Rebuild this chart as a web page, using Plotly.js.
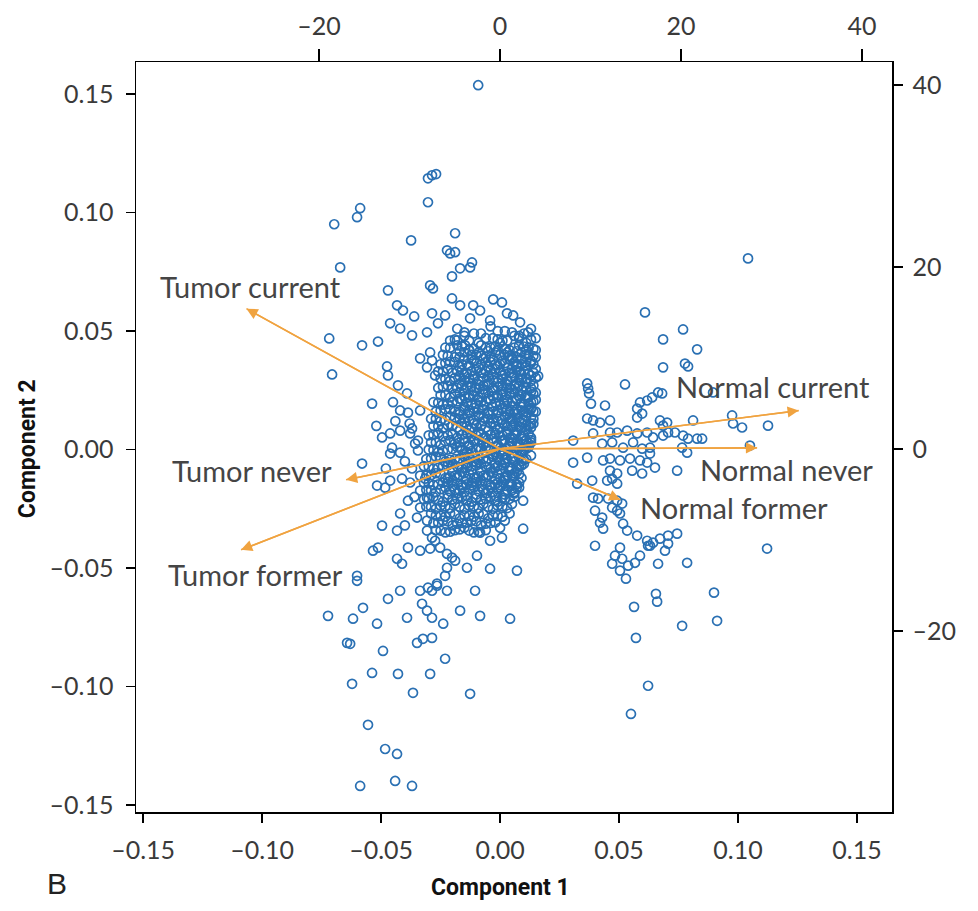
<!DOCTYPE html>
<html><head><meta charset="utf-8">
<script src="https://cdn.plot.ly/plotly-3.0.1.min.js"></script>
<style>html,body{margin:0;padding:0;background:#fff}#chart{width:978px;height:911px}</style>
</head><body><div id="chart"></div>
<script>
// ---- Sample scores (Component 1, Component 2) ----
// dense central block
const coreC1 = [
-0.018,-0.011,-0.004,0.002,0.008,0.013,
-0.021,-0.015,-0.009,-0.003,0.001,0.006,0.011,0.015,
-0.023,-0.018,-0.013,-0.008,-0.004,0.000,0.004,0.008,0.012,0.015,
-0.024,-0.019,-0.015,-0.010,-0.006,-0.002,0.002,0.005,0.009,0.012,0.015,
-0.025,-0.021,-0.016,-0.012,-0.008,-0.004,0.000,0.004,0.007,0.011,0.014,
-0.026,-0.022,-0.018,-0.014,-0.010,-0.006,-0.002,0.002,0.005,0.008,0.012,0.015,
-0.025,-0.021,-0.017,-0.013,-0.009,-0.005,-0.001,0.003,0.006,0.009,0.013,0.016,
-0.026,-0.022,-0.018,-0.014,-0.010,-0.007,-0.003,0.001,0.004,0.008,0.011,0.014,
-0.025,-0.021,-0.017,-0.013,-0.009,-0.005,-0.001,0.002,0.006,0.009,0.012,0.015,
-0.028,-0.024,-0.020,-0.016,-0.012,-0.008,-0.004,0.000,0.003,0.007,0.010,0.013,0.015,
-0.027,-0.023,-0.019,-0.015,-0.011,-0.007,-0.003,0.001,0.004,0.007,0.010,0.013,0.015,
-0.029,-0.025,-0.021,-0.017,-0.013,-0.009,-0.005,-0.001,0.002,0.005,0.008,0.011,0.014,
-0.028,-0.024,-0.020,-0.016,-0.012,-0.008,-0.004,0.000,0.003,0.006,0.009,0.012,0.014,
-0.030,-0.026,-0.022,-0.018,-0.014,-0.010,-0.006,-0.002,0.001,0.004,0.007,0.010,0.013,
-0.029,-0.025,-0.021,-0.017,-0.013,-0.009,-0.005,-0.001,0.002,0.005,0.008,0.011,0.013,
-0.030,-0.026,-0.022,-0.018,-0.014,-0.010,-0.006,-0.002,0.001,0.004,0.007,0.010,0.012,
-0.031,-0.027,-0.023,-0.019,-0.015,-0.011,-0.007,-0.003,0.000,0.003,0.006,0.009,0.011,
-0.032,-0.028,-0.024,-0.020,-0.016,-0.012,-0.008,-0.004,-0.001,0.002,0.005,0.008,0.010,
-0.031,-0.027,-0.023,-0.019,-0.015,-0.011,-0.007,-0.003,0.000,0.003,0.006,0.009,
-0.032,-0.028,-0.024,-0.020,-0.016,-0.012,-0.008,-0.004,-0.001,0.002,0.005,0.008,
-0.031,-0.027,-0.023,-0.019,-0.015,-0.011,-0.007,-0.003,0.000,0.003,0.006,0.008,
-0.032,-0.028,-0.024,-0.020,-0.016,-0.012,-0.008,-0.004,-0.001,0.002,0.006,
-0.031,-0.027,-0.023,-0.019,-0.015,-0.011,-0.007,-0.003,0.001,0.005,
-0.029,-0.025,-0.021,-0.017,-0.013,-0.009,-0.005,-0.001,0.004,
-0.028,-0.024,-0.020,-0.016,-0.012,-0.008,-0.004,0.002,
-0.027,-0.023,-0.019,-0.015,-0.011,-0.006,0.000
];
const coreC2 = [
0.051,0.049,0.052,0.050,0.048,0.051,
0.046,0.048,0.045,0.047,0.046,0.048,0.045,0.047,
0.043,0.044,0.042,0.044,0.043,0.045,0.042,0.044,0.043,0.042,
0.040,0.039,0.041,0.040,0.039,0.041,0.040,0.039,0.041,0.040,0.039,
0.036,0.037,0.036,0.038,0.036,0.037,0.036,0.038,0.036,0.037,0.036,
0.033,0.034,0.033,0.032,0.034,0.033,0.034,0.032,0.034,0.033,0.032,0.034,
0.030,0.029,0.031,0.030,0.029,0.031,0.030,0.029,0.031,0.030,0.029,0.031,
0.026,0.027,0.026,0.027,0.026,0.027,0.026,0.027,0.026,0.027,0.026,0.027,
0.023,0.022,0.024,0.023,0.022,0.024,0.023,0.022,0.024,0.023,0.022,0.024,
0.020,0.019,0.020,0.021,0.019,0.020,0.021,0.019,0.020,0.021,0.019,0.020,0.021,
0.016,0.017,0.016,0.017,0.016,0.017,0.016,0.017,0.016,0.017,0.016,0.017,0.016,
0.013,0.012,0.014,0.013,0.012,0.014,0.013,0.012,0.014,0.013,0.012,0.014,0.013,
0.010,0.009,0.010,0.011,0.009,0.010,0.011,0.009,0.010,0.011,0.009,0.010,0.011,
0.006,0.007,0.006,0.005,0.007,0.006,0.005,0.007,0.006,0.005,0.007,0.006,0.005,
0.003,0.002,0.004,0.003,0.002,0.004,0.003,0.002,0.004,0.003,0.002,0.004,0.003,
0.000,-0.001,0.000,0.001,-0.001,0.000,0.001,-0.001,0.000,0.001,-0.001,0.000,0.001,
-0.004,-0.003,-0.005,-0.004,-0.003,-0.005,-0.004,-0.003,-0.005,-0.004,-0.003,-0.005,-0.004,
-0.007,-0.008,-0.007,-0.006,-0.008,-0.007,-0.006,-0.008,-0.007,-0.006,-0.008,-0.007,-0.006,
-0.011,-0.010,-0.012,-0.011,-0.010,-0.012,-0.011,-0.010,-0.012,-0.011,-0.010,-0.012,
-0.014,-0.015,-0.014,-0.013,-0.015,-0.014,-0.013,-0.015,-0.014,-0.013,-0.015,-0.014,
-0.017,-0.018,-0.016,-0.017,-0.018,-0.016,-0.017,-0.018,-0.016,-0.017,-0.018,-0.016,
-0.021,-0.020,-0.022,-0.021,-0.020,-0.022,-0.021,-0.020,-0.022,-0.021,-0.020,
-0.024,-0.025,-0.024,-0.023,-0.025,-0.024,-0.023,-0.025,-0.024,-0.023,
-0.027,-0.028,-0.027,-0.029,-0.028,-0.027,-0.029,-0.028,-0.027,
-0.031,-0.030,-0.032,-0.031,-0.030,-0.032,-0.031,-0.030,
-0.034,-0.035,-0.034,-0.033,-0.035,-0.034,-0.033
];
// further samples packed between those of the central block
const fillC1 = [
-0.015,-0.008,-0.001,0.005,0.010,
-0.019,-0.013,-0.006,-0.001,0.003,0.008,0.013,
-0.021,-0.016,-0.011,-0.006,-0.002,0.002,0.006,0.010,0.014,
-0.022,-0.017,-0.012,-0.008,-0.004,0.000,0.004,0.007,0.011,0.014,
-0.023,-0.019,-0.014,-0.010,-0.006,-0.002,0.002,0.006,0.009,0.013,
-0.024,-0.020,-0.016,-0.012,-0.008,-0.004,0.000,0.004,0.007,0.010,0.014,
-0.023,-0.019,-0.015,-0.011,-0.007,-0.003,0.001,0.005,0.008,0.011,0.015,
-0.024,-0.020,-0.016,-0.012,-0.009,-0.005,-0.001,0.003,0.006,0.010,0.013,
-0.023,-0.019,-0.015,-0.011,-0.007,-0.003,0.001,0.004,0.008,0.011,0.014,
-0.026,-0.022,-0.018,-0.014,-0.010,-0.006,-0.002,0.002,0.005,0.009,0.012,0.014,
-0.025,-0.021,-0.017,-0.013,-0.009,-0.005,-0.001,0.003,0.006,0.009,0.012,0.014,
-0.027,-0.023,-0.019,-0.015,-0.011,-0.007,-0.003,0.001,0.004,0.007,0.010,0.013,
-0.026,-0.022,-0.018,-0.014,-0.010,-0.006,-0.002,0.002,0.005,0.008,0.011,0.013,
-0.028,-0.024,-0.020,-0.016,-0.012,-0.008,-0.004,0.000,0.003,0.006,0.009,0.012,
-0.027,-0.023,-0.019,-0.015,-0.011,-0.007,-0.003,0.001,0.004,0.007,0.010,0.012,
-0.028,-0.024,-0.020,-0.016,-0.012,-0.008,-0.004,0.000,0.003,0.006,0.009,0.011,
-0.029,-0.025,-0.021,-0.017,-0.013,-0.009,-0.005,-0.001,0.002,0.005,0.008,0.010,
-0.030,-0.026,-0.022,-0.018,-0.014,-0.010,-0.006,-0.002,0.001,0.004,0.007,0.009,
-0.029,-0.025,-0.021,-0.017,-0.013,-0.009,-0.005,-0.001,0.002,0.005,0.008,
-0.030,-0.026,-0.022,-0.018,-0.014,-0.010,-0.006,-0.002,0.001,0.004,0.007,
-0.029,-0.025,-0.021,-0.017,-0.013,-0.009,-0.005,-0.001,0.002,0.005,
-0.030,-0.026,-0.022,-0.018,-0.014,-0.010,-0.006,-0.002,0.001,0.004,
-0.029,-0.025,-0.021,-0.017,-0.013,-0.009,-0.005,-0.001,0.003,
-0.027,-0.023,-0.019,-0.015,-0.011,-0.007,-0.003,0.001,
-0.026,-0.022,-0.018,-0.014,-0.010,-0.006,-0.002,
-0.025,-0.021,-0.017,-0.013,-0.009
];
const fillC2 = [
0.0495,0.0490,0.0500,0.0495,0.0490,
0.0465,0.0460,0.0470,0.0465,0.0460,0.0470,0.0465,
0.0430,0.0435,0.0425,0.0430,0.0435,0.0425,0.0430,0.0435,0.0425,
0.0395,0.0390,0.0400,0.0395,0.0390,0.0400,0.0395,0.0390,0.0400,0.0395,
0.0365,0.0370,0.0360,0.0365,0.0370,0.0360,0.0365,0.0370,0.0360,0.0365,
0.0330,0.0325,0.0335,0.0330,0.0325,0.0335,0.0330,0.0325,0.0335,0.0330,0.0325,
0.0298,0.0303,0.0293,0.0298,0.0303,0.0293,0.0298,0.0303,0.0293,0.0298,0.0303,
0.0265,0.0260,0.0270,0.0265,0.0260,0.0270,0.0265,0.0260,0.0270,0.0265,0.0260,
0.0230,0.0235,0.0225,0.0230,0.0235,0.0225,0.0230,0.0235,0.0225,0.0230,0.0235,
0.0198,0.0193,0.0203,0.0198,0.0193,0.0203,0.0198,0.0193,0.0203,0.0198,0.0193,0.0203,
0.0165,0.0170,0.0160,0.0165,0.0170,0.0160,0.0165,0.0170,0.0160,0.0165,0.0170,0.0160,
0.0130,0.0125,0.0135,0.0130,0.0125,0.0135,0.0130,0.0125,0.0135,0.0130,0.0125,0.0135,
0.0098,0.0103,0.0093,0.0098,0.0103,0.0093,0.0098,0.0103,0.0093,0.0098,0.0103,0.0093,
0.0062,0.0057,0.0067,0.0062,0.0057,0.0067,0.0062,0.0057,0.0067,0.0062,0.0057,0.0067,
0.0030,0.0035,0.0025,0.0030,0.0035,0.0025,0.0030,0.0035,0.0025,0.0030,0.0035,0.0025,
-0.0002,-0.0007,0.0003,-0.0002,-0.0007,0.0003,-0.0002,-0.0007,0.0003,-0.0002,-0.0007,0.0003,
-0.0038,-0.0033,-0.0043,-0.0038,-0.0033,-0.0043,-0.0038,-0.0033,-0.0043,-0.0038,-0.0033,-0.0043,
-0.0072,-0.0077,-0.0067,-0.0072,-0.0077,-0.0067,-0.0072,-0.0077,-0.0067,-0.0072,-0.0077,-0.0067,
-0.0108,-0.0103,-0.0113,-0.0108,-0.0103,-0.0113,-0.0108,-0.0103,-0.0113,-0.0108,-0.0103,
-0.0142,-0.0147,-0.0137,-0.0142,-0.0147,-0.0137,-0.0142,-0.0147,-0.0137,-0.0142,-0.0147,
-0.0172,-0.0167,-0.0177,-0.0172,-0.0167,-0.0177,-0.0172,-0.0167,-0.0177,-0.0172,
-0.0208,-0.0213,-0.0203,-0.0208,-0.0213,-0.0203,-0.0208,-0.0213,-0.0203,-0.0208,
-0.0242,-0.0237,-0.0247,-0.0242,-0.0237,-0.0247,-0.0242,-0.0237,-0.0247,
-0.0278,-0.0283,-0.0273,-0.0278,-0.0283,-0.0273,-0.0278,-0.0283,
-0.0308,-0.0303,-0.0313,-0.0308,-0.0303,-0.0313,-0.0308,
-0.0342,-0.0347,-0.0337,-0.0342,-0.0347
];
// darkest inner part of the central block
const innerC1 = [
-0.017,-0.013,-0.009,-0.005,-0.001,0.003,0.007,0.011,
-0.015,-0.011,-0.007,-0.003,0.001,0.005,0.009,0.013,
-0.017,-0.013,-0.009,-0.005,-0.001,0.003,0.007,0.011,
-0.015,-0.011,-0.007,-0.003,0.001,0.005,0.009,0.013,
-0.017,-0.013,-0.009,-0.005,-0.001,0.003,0.007,0.011,
-0.015,-0.011,-0.007,-0.003,0.001,0.005,0.009,0.013,
-0.017,-0.013,-0.009,-0.005,-0.001,0.003,0.007,0.011,
-0.015,-0.011,-0.007,-0.003,0.001,0.005,0.009,0.013,
-0.017,-0.013,-0.009,-0.005,-0.001,0.003,0.007,0.011,
-0.015,-0.011,-0.007,-0.003,0.001,0.005,0.009,0.013,
-0.017,-0.013,-0.009,-0.005,-0.001,0.003,0.007,0.011,
-0.015,-0.011,-0.007,-0.003,0.001,0.005,0.009,0.013,
-0.017,-0.013,-0.009,-0.005,-0.001,0.003,0.007,0.011,
-0.015,-0.011,-0.007,-0.003,0.001,0.005,0.009,0.013,
-0.022,-0.018,-0.014,-0.010,-0.006,-0.002,0.002,0.006,
-0.020,-0.016,-0.012,-0.008,-0.004,0.000,0.004,0.007,
-0.022,-0.018,-0.014,-0.010,-0.006,-0.002,0.002,0.006,
-0.020,-0.016,-0.012,-0.008,-0.004,0.000,0.004,0.007,
-0.022,-0.018,-0.014,-0.010,-0.006,-0.002,0.002,0.006
];
const innerC2 = [
0.0415,0.0420,0.0410,0.0415,0.0420,0.0410,0.0415,0.0420,
0.0380,0.0375,0.0385,0.0380,0.0375,0.0385,0.0380,0.0375,
0.0350,0.0355,0.0345,0.0350,0.0355,0.0345,0.0350,0.0355,
0.0317,0.0312,0.0322,0.0317,0.0312,0.0322,0.0317,0.0312,
0.0280,0.0285,0.0275,0.0280,0.0285,0.0275,0.0280,0.0285,
0.0250,0.0245,0.0255,0.0250,0.0245,0.0255,0.0250,0.0245,
0.0215,0.0220,0.0210,0.0215,0.0220,0.0210,0.0215,0.0220,
0.0180,0.0175,0.0185,0.0180,0.0175,0.0185,0.0180,0.0175,
0.0150,0.0155,0.0145,0.0150,0.0155,0.0145,0.0150,0.0155,
0.0115,0.0110,0.0120,0.0115,0.0110,0.0120,0.0115,0.0110,
0.0080,0.0085,0.0075,0.0080,0.0085,0.0075,0.0080,0.0085,
0.0045,0.0040,0.0050,0.0045,0.0040,0.0050,0.0045,0.0040,
0.0010,0.0015,0.0005,0.0010,0.0015,0.0005,0.0010,0.0015,
-0.0020,-0.0025,-0.0015,-0.0020,-0.0025,-0.0015,-0.0020,-0.0025,
-0.0055,-0.0050,-0.0060,-0.0055,-0.0050,-0.0060,-0.0055,-0.0050,
-0.0090,-0.0095,-0.0085,-0.0090,-0.0095,-0.0085,-0.0090,-0.0095,
-0.0120,-0.0115,-0.0125,-0.0120,-0.0115,-0.0125,-0.0120,-0.0115,
-0.0155,-0.0160,-0.0150,-0.0155,-0.0160,-0.0150,-0.0155,-0.0160,
-0.0190,-0.0185,-0.0195,-0.0190,-0.0185,-0.0195,-0.0190,-0.0185
];
// scattered samples above the central block
const upperC1 = [
-0.0092,-0.0286,-0.0269,-0.0303,-0.0303,-0.0588,-0.0601,-0.0697,-0.0374,-0.0189,
-0.0223,-0.0210,-0.0189,-0.0118,-0.0126,-0.0168,-0.0202,-0.0672,-0.0294,-0.0282,
-0.0471,-0.0202,-0.0168,-0.0113,-0.0029,0.0008,0.0029,0.0055,-0.0433,-0.0408,
-0.0361,-0.0286,-0.0462,-0.0420,-0.0370,-0.0307,-0.0261,0.0118,-0.0718,-0.0580,
-0.0513,-0.0181,-0.0147,-0.0336,-0.0294,-0.0286,-0.0307,-0.0273,-0.0475,-0.0471,
-0.0706,-0.0429,-0.0391,-0.0538,-0.0420,-0.0387,-0.0336,-0.0084,-0.0042,0.0084,
-0.0126,-0.0231
];
const upperC2 = [
0.1538,0.1158,0.1163,0.1145,0.1044,0.1019,0.0981,0.0951,0.0883,0.0913,
0.0841,0.0828,0.0833,0.0790,0.0769,0.0765,0.0731,0.0769,0.0693,0.0680,
0.0672,0.0638,0.0609,0.0609,0.0634,0.0621,0.0575,0.0566,0.0609,0.0587,
0.0562,0.0575,0.0533,0.0511,0.0482,0.0495,0.0533,0.0495,0.0469,0.0440,
0.0456,0.0461,0.0440,0.0385,0.0410,0.0376,0.0347,0.0313,0.0351,0.0313,
0.0317,0.0271,0.0237,0.0194,0.0165,0.0156,0.0165,0.0587,0.0545,0.0537,
0.0554,0.0566
];
// scattered samples left of and below the central block
const lowerC1 = [
-0.0496,-0.0462,-0.0420,-0.0370,-0.0345,-0.0454,-0.0462,-0.0420,-0.0378,-0.0357,
-0.0345,-0.0580,-0.0517,-0.0483,-0.0462,-0.0412,-0.0378,-0.0336,-0.0315,-0.0387,
-0.0336,-0.0307,-0.0336,-0.0349,-0.0307,-0.0496,-0.0433,-0.0534,-0.0513,-0.0433,
-0.0412,-0.0387,-0.0336,-0.0294,-0.0273,-0.0252,-0.0223,-0.0202,-0.0307,-0.0286,
-0.0223,-0.0231,-0.0265,-0.0303,-0.0139,-0.0097,-0.0042,0.0071,0.0097,-0.0084,
-0.0042,0.0008,0.0097,-0.0601,-0.0601,-0.0189,-0.0420,-0.0471,-0.0576,-0.0618,
-0.0723,-0.0336,-0.0286,-0.0265,-0.0223,-0.0105,-0.0328,-0.0307,-0.0286,-0.0239,
-0.0391,-0.0517,-0.0168,-0.0084,0.0042,-0.0643,-0.0630,-0.0349,-0.0324,-0.0286,
-0.0492,-0.0231,-0.0538,-0.0429,-0.0294,-0.0622,-0.0366,-0.0126,-0.0555,-0.0483,
-0.0433,-0.0588,-0.0441,-0.0370,-0.0440,-0.0400,-0.0480,-0.0360,-0.0420,-0.0450,
-0.0520,-0.0380,-0.0370,-0.0400
];
const lowerC2 = [
0.0051,0.0068,0.0080,0.0089,0.0038,0.0008,-0.0017,-0.0013,0.0068,0.0025,
-0.0004,-0.0059,-0.0152,-0.0161,-0.0131,-0.0123,-0.0139,-0.0110,-0.0123,-0.0216,
-0.0173,-0.0203,-0.0245,-0.0287,-0.0300,-0.0321,-0.0342,-0.0427,-0.0414,-0.0461,
-0.0482,-0.0414,-0.0427,-0.0418,-0.0385,-0.0414,-0.0440,-0.0456,-0.0342,-0.0372,
-0.0499,-0.0533,-0.0575,-0.0583,-0.0499,-0.0448,-0.0503,-0.0511,-0.0334,-0.0351,
-0.0385,-0.0372,-0.0216,-0.0533,-0.0554,-0.0469,-0.0596,-0.0630,-0.0668,-0.0714,
-0.0702,-0.0596,-0.0596,-0.0566,-0.0596,-0.0596,-0.0651,-0.0680,-0.0710,-0.0735,
-0.0710,-0.0735,-0.0680,-0.0702,-0.0714,-0.0816,-0.0820,-0.0816,-0.0799,-0.0795,
-0.0850,-0.0883,-0.0943,-0.0947,-0.0947,-0.0989,-0.1027,-0.1031,-0.1162,-0.1264,
-0.1285,-0.1420,-0.1399,-0.1420,0.0120,-0.0050,-0.0080,-0.0200,-0.0270,0.0200,
0.0100,0.0110,-0.0080,-0.0320
];
// right-hand group
const rightC1 = [
0.1042,0.0609,0.0769,0.0685,0.0828,0.0777,0.0790,0.0685,0.0525,0.0366,
0.0370,0.0374,0.0382,0.0441,0.0664,0.0681,0.0588,0.0618,0.0639,0.0576,
0.0597,0.0576,0.0366,0.0391,0.0420,0.0462,0.0672,0.0702,0.0685,0.0811,
0.0307,0.0391,0.0462,0.0492,0.0534,0.0576,0.0618,0.0643,0.0685,0.0706,
0.0735,0.0769,0.0790,0.0828,0.0849,0.0979,0.1017,0.1126,0.0429,0.0471,
0.0517,0.0559,0.0597,0.0630,0.0765,0.0786,0.1050,0.0307,0.0366,0.0433,
0.0462,0.0504,0.0546,0.0588,0.0618,0.0630,0.0651,0.0744,0.0462,0.0492,
0.0471,0.0450,0.0492,0.0555,0.0597,0.0324,0.0387,0.0391,0.0412,0.0454,
0.0492,0.0513,0.0471,0.0492,0.0504,0.0399,0.0429,0.0420,0.0433,0.0517,
0.0534,0.0576,0.0622,0.0672,0.0706,0.0744,0.0399,0.0504,0.0483,0.0513,
0.0471,0.0504,0.0588,0.0567,0.0538,0.0618,0.0643,0.0630,0.0664,0.0693,
0.0706,0.0786,0.1122,0.0655,0.0660,0.0765,0.0899,0.0912,0.0563,0.0571,
0.0622,0.0550,0.0529,0.0895,0.0975
];
const rightC2 = [
0.0807,0.0579,0.0507,0.0465,0.0423,0.0363,0.0351,0.0347,0.0275,0.0279,
0.0258,0.0237,0.0194,0.0186,0.0241,0.0237,0.0199,0.0207,0.0220,0.0173,
0.0152,0.0135,0.0131,0.0123,0.0114,0.0123,0.0123,0.0114,0.0101,0.0123,
0.0038,0.0068,0.0072,0.0072,0.0080,0.0068,0.0072,0.0051,0.0059,0.0072,
0.0072,0.0059,0.0046,0.0046,0.0046,0.0110,0.0093,0.0101,0.0025,0.0030,
0.0008,0.0030,0.0004,0.0008,0.0008,-0.0013,0.0017,-0.0055,-0.0034,-0.0046,
-0.0038,-0.0046,-0.0038,-0.0046,-0.0055,-0.0017,-0.0076,-0.0089,-0.0089,-0.0101,
-0.0123,-0.0131,-0.0144,-0.0089,-0.0101,-0.0144,-0.0131,-0.0203,-0.0207,-0.0207,
-0.0216,-0.0228,-0.0245,-0.0258,-0.0270,-0.0258,-0.0287,-0.0309,-0.0334,-0.0313,
-0.0342,-0.0363,-0.0406,-0.0376,-0.0363,-0.0355,-0.0406,-0.0414,-0.0448,-0.0461,
-0.0482,-0.0511,-0.0448,-0.0478,-0.0490,-0.0385,-0.0393,-0.0406,-0.0482,-0.0427,
-0.0397,-0.0478,-0.0418,-0.0609,-0.0642,-0.0744,-0.0604,-0.0723,-0.0664,-0.0795,
-0.0997,-0.1116,-0.0545,0.0241,0.0144
];

// ---- Variable loadings (top / right axes) ----
const loadingNames = ['Tumor current','Tumor never','Tumor former','Normal current','Normal never','Normal former'];
const loadingC1 = [-28.0, -17.0, -28.6, 33.0, 28.4, 13.3];
const loadingC2 = [15.4, -3.4, -11.1, 4.2, 0.1, -5.6];

// ---- tick labels ----
const primaryTicks = [-0.15,-0.10,-0.05,0,0.05,0.10,0.15];
const primaryTickText = ['\u20130.15','\u20130.10','\u20130.05','0.00','0.05','0.10','0.15'];
const secondaryTicks = [-20,0,20,40];
const secondaryTickText = ['\u201320','0','20','40'];

// ---- presentation ----
const labelPos = [[-27.5,17.8],[-27.4,-2.4],[-27.0,-13.8],[30.2,6.9],[31.6,-2.3],[25.9,-6.4]];
const arrowColor = '#f0a340';
const pointColor = '#2a70b3';
const tickFont = {family:'Lato, "Open Sans", sans-serif', size:25, color:'#3a3a3a'};

const allC1 = coreC1.concat(fillC1, innerC1, upperC1, lowerC1, rightC1);
const allC2 = coreC2.concat(fillC2, innerC2, upperC2, lowerC2, rightC2);

const shaftX = [], shaftY = [];
loadingC1.forEach((v,i)=>{ shaftX.push(0, v, null); shaftY.push(0, loadingC2[i], null); });

const traces = [
  {type:'scatter', mode:'markers', x:allC1, y:allC2, xaxis:'x', yaxis:'y',
   marker:{symbol:'circle-open', size:9, color:pointColor, line:{width:1.7, color:pointColor}},
   hoverinfo:'skip', showlegend:false},
  {type:'scatter', mode:'lines', x:shaftX, y:shaftY, xaxis:'x2', yaxis:'y2',
   line:{color:arrowColor, width:1.6}, hoverinfo:'skip', showlegend:false}
];

const annotations = [];
loadingC1.forEach((v,i)=>{
  annotations.push({x:v, y:loadingC2[i], xref:'x2', yref:'y2', ax:0, ay:0, axref:'x2', ayref:'y2',
    showarrow:true, arrowhead:2, arrowsize:1.4, arrowwidth:1.6, arrowcolor:arrowColor, text:'', standoff:0});
  annotations.push({x:labelPos[i][0], y:labelPos[i][1], xref:'x2', yref:'y2', showarrow:false,
    text:loadingNames[i], font:{family:'Lato, "Open Sans", sans-serif', size:29, color:'#454545'},
    xanchor:'center', yanchor:'middle'});
});
annotations.push({text:'Component 1', xref:'paper', yref:'paper', x:0.4815, y:-0.1, showarrow:false,
  xanchor:'center', yanchor:'middle', font:{family:'Roboto, sans-serif', size:23, color:'#111', weight:'bold'}});
annotations.push({text:'Component 2', xref:'paper', yref:'paper', x:-0.144, y:0.484, showarrow:false, textangle:-90,
  xanchor:'center', yanchor:'middle', font:{family:'Roboto, sans-serif', size:23, color:'#111', weight:'bold'}});
annotations.push({text:'B', xref:'paper', yref:'paper', x:-0.1045, y:-0.0947, showarrow:false,
  xanchor:'center', yanchor:'middle', font:{family:'Liberation Sans, sans-serif', size:30, color:'#222'}});

const axisCommon = {showgrid:false, zeroline:false, showline:true, linecolor:'#000', linewidth:1.5,
  ticks:'outside', ticklen:9, tickwidth:1.5, tickcolor:'#000', tickfont:tickFont, fixedrange:true};

const layout = {
  width:978, height:911, paper_bgcolor:'#fff', plot_bgcolor:'#fff',
  margin:{l:136, r:86, t:62, b:99}, showlegend:false,
  xaxis: Object.assign({}, axisCommon, {range:[-0.153,0.1647], tickvals:primaryTicks, ticktext:primaryTickText, ticklabelstandoff:6}),
  yaxis: Object.assign({}, axisCommon, {range:[-0.153,0.1636], tickvals:primaryTicks, ticktext:primaryTickText, ticklabelstandoff:7}),
  xaxis2: Object.assign({}, axisCommon, {overlaying:'x', side:'top', anchor:'y', range:[-40.2,43.3], tickvals:secondaryTicks, ticktext:secondaryTickText, ticklen:12, ticklabelstandoff:4}),
  yaxis2: Object.assign({}, axisCommon, {overlaying:'y', side:'right', anchor:'x', range:[-39.9,42.5], tickvals:secondaryTicks, ticktext:secondaryTickText, ticklabelstandoff:5}),
  annotations: annotations
};

Plotly.newPlot('chart', traces, layout, {displayModeBar:false, staticPlot:true});
</script>
</body></html>
